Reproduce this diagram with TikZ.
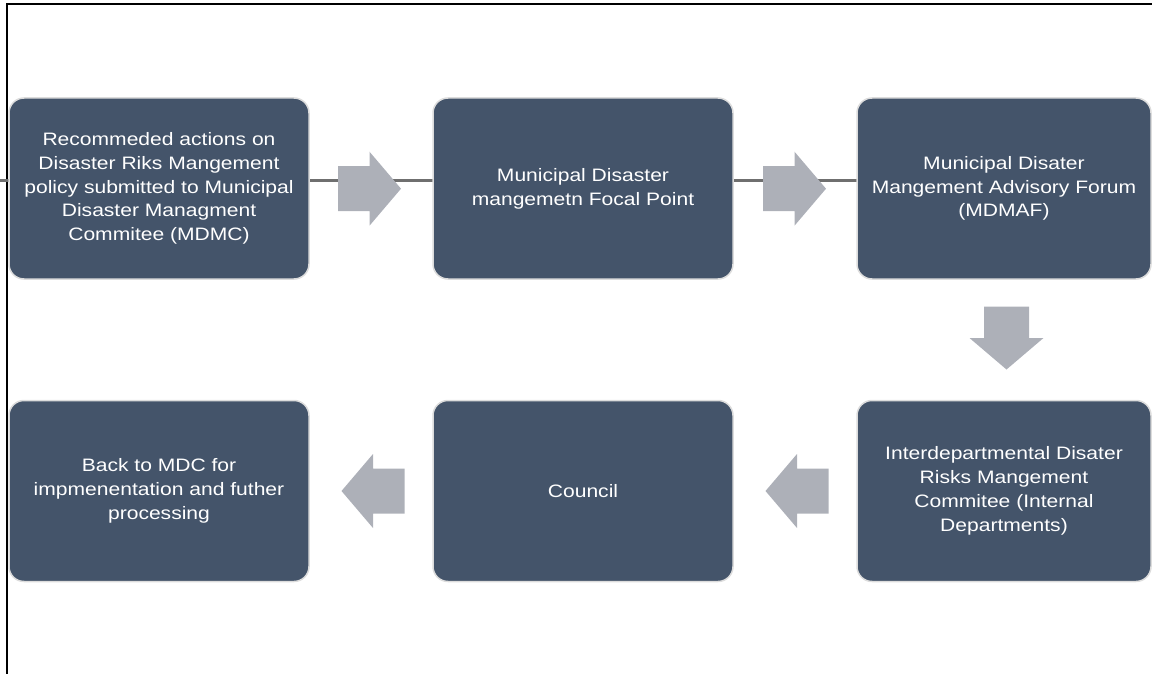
\documentclass[tikz,border=0pt]{standalone}
\usepackage{fontspec}
\setmainfont{Liberation Sans}[FakeStretch=1.17]
\definecolor{boxblue}{HTML}{44546A}
\definecolor{boxedge}{HTML}{DCDCDC}
\definecolor{arrowgrey}{HTML}{ADB0B8}
\definecolor{linkgrey}{HTML}{6F6F6F}
\tikzset{
  stage/.style={rectangle, rounded corners=15pt, fill=boxblue, draw=boxedge,
    line width=1.5pt, text=white, align=center, inner sep=0pt,
    minimum height=181pt, font=\fontsize{18}{23.8}\selectfont},
  frame/.style={draw=black, line width=2pt},
  link/.style={draw=linkgrey, line width=3pt},
  blockarrow/.pic={
    \fill[arrowgrey] (-31.5,-22.5) -- (0,-22.5) -- (0,-37) -- (31.5,0)
      -- (0,37) -- (0,22.5) -- (-31.5,22.5) -- cycle;
  }
}
\begin{document}
\begin{tikzpicture}[x=1pt,y=-1pt]
\useasboundingbox (0,0) rectangle (1152,674);

% outer frame (top and left edges)
\draw[frame] (1152,4.5) -- (7,4.5) -- (7,674);

% horizontal rail behind the upper row
\coordinate (railstart) at (0,180.5);
\coordinate (railend) at (857,180.5);
\draw[link] (railstart) -- (railend);

% upper row
\node[stage, minimum width=300pt] (b1) at (159,188.5)
  {Recommeded actions on\\Disaster Riks Mangement\\policy submitted to Municipal\\Disaster Managment\\Commitee (MDMC)};
\node[stage, minimum width=300pt] (b2) at (583,188.5)
  {Municipal Disaster\\mangemetn Focal Point};
\node[stage, minimum width=294pt] (b3) at (1004,188.5)
  {Municipal Disater\\Mangement Advisory Forum\\(MDMAF)};

% lower row
\node[stage, minimum width=300pt] (b4) at (159,491)
  {Back to MDC for\\impmenentation and futher\\processing};
\node[stage, minimum width=300pt] (b5) at (583,491)
  {Council};
\node[stage, minimum width=294pt] (b6) at (1004,491)
  {Interdepartmental Disater\\Risks Mangement\\Commitee (Internal\\Departments)};

% block arrows between the stages
\pic at (369.5,188.7) {blockarrow};
\pic at (794.5,188.7) {blockarrow};
\pic[rotate=-90] at (1006.5,338) {blockarrow};
\pic[rotate=180] at (797,491) {blockarrow};
\pic[rotate=180] at (373,491) {blockarrow};
\end{tikzpicture}
\end{document}
